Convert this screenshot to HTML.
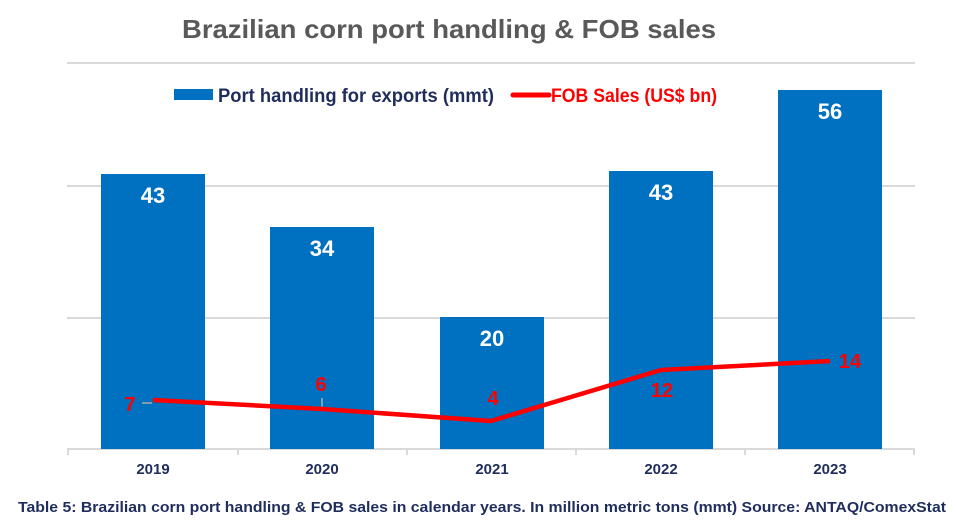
<!DOCTYPE html><html><head><style>body{margin:0;background:#fff}svg{display:block}</style></head><body>
<svg width="956" height="526" xmlns="http://www.w3.org/2000/svg" font-family="Liberation Sans, Arial, sans-serif">
<rect width="956" height="526" fill="#fff"/>
<text x="449" y="38" text-anchor="middle" font-size="26" font-weight="bold" fill="#595959" textLength="534" lengthAdjust="spacingAndGlyphs">Brazilian corn port handling &amp; FOB sales</text>
<g stroke="#d9d9d9" stroke-width="2">
<line x1="67" y1="63" x2="915" y2="63"/><line x1="67" y1="186" x2="915" y2="186"/><line x1="67" y1="318" x2="915" y2="318"/>
<line x1="67" y1="449" x2="915" y2="449"/>
<line x1="68" y1="449" x2="68" y2="455"/><line x1="238" y1="449" x2="238" y2="455"/><line x1="407" y1="449" x2="407" y2="455"/><line x1="576" y1="449" x2="576" y2="455"/><line x1="745" y1="449" x2="745" y2="455"/><line x1="914" y1="449" x2="914" y2="455"/>
</g>
<rect x="174" y="89" width="39" height="11" fill="#0070c0"/>
<text x="218" y="102" font-size="19" font-weight="bold" fill="#1f2d5c" textLength="276" lengthAdjust="spacingAndGlyphs">Port handling for exports (mmt)</text>
<line x1="513" y1="95" x2="549" y2="95" stroke="#ff0000" stroke-width="5" stroke-linecap="round"/>
<text x="551" y="102" font-size="19" font-weight="bold" fill="#ff0000" textLength="166" lengthAdjust="spacingAndGlyphs">FOB Sales (US$ bn)</text>
<g fill="#0070c0">
<rect x="101" y="174" width="104" height="275"/><rect x="270" y="227" width="104" height="222"/><rect x="440" y="317" width="104" height="132"/><rect x="609" y="171" width="104" height="278"/><rect x="778" y="90" width="104" height="359"/>
</g>
<g font-size="22" font-weight="bold" fill="#fff" text-anchor="middle">
<text x="153" y="203">43</text><text x="322" y="256">34</text><text x="492" y="346">20</text><text x="661" y="200">43</text><text x="830" y="119">56</text>
</g>
<g stroke="#aaa" stroke-width="1.5"><line x1="142" y1="403" x2="152" y2="403"/><line x1="322" y1="398" x2="322" y2="409"/></g>
<polyline points="153,400 322,409 491,421 661,370 830,361" fill="none" stroke="#ff0000" stroke-width="4.5" stroke-linejoin="round"/>
<g font-size="20" font-weight="bold" fill="#ff0000" text-anchor="middle">
<text x="130" y="411">7</text><text x="321" y="391">6</text><text x="493" y="405">4</text><text x="662" y="397">12</text><text x="850" y="368">14</text>
</g>
<g font-size="15" font-weight="bold" fill="#1f2d5c" text-anchor="middle">
<text x="153" y="474">2019</text><text x="322" y="474">2020</text><text x="492" y="474">2021</text><text x="661" y="474">2022</text><text x="830" y="474">2023</text>
</g>
<text x="18" y="512" font-size="14.5" font-weight="bold" fill="#1f2d5c" textLength="928" lengthAdjust="spacingAndGlyphs">Table 5: Brazilian corn port handling &amp; FOB sales in calendar years. In million metric tons (mmt) Source: ANTAQ/ComexStat</text>
</svg></body></html>
